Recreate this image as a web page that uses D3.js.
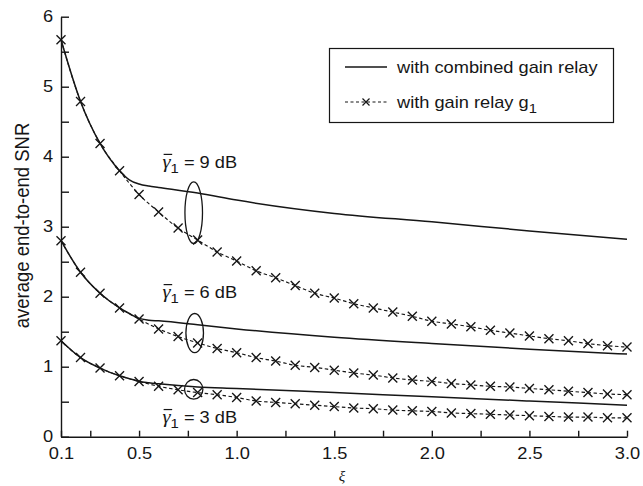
<!doctype html>
<html>
<head>
<meta charset="utf-8">
<style>
  body { margin: 0; background: #fff; }
  svg { display: block; font-family: "Liberation Sans", Arial, Helvetica, sans-serif; }
</style>
<script src="https://cdn.jsdelivr.net/npm/d3@7"></script>
</head>
<body>
<svg width="643" height="486"></svg>
<script>
// xi where the g1 curves carry a marker
var xi = [0.1, 0.2, 0.3, 0.4, 0.5, 0.6, 0.7, 0.8, 0.9, 1.0,
          1.1, 1.2, 1.3, 1.4, 1.5, 1.6, 1.7, 1.8, 1.9, 2.0,
          2.1, 2.2, 2.3, 2.4, 2.5, 2.6, 2.7, 2.8, 2.9, 3.0];

// with gain relay g1 (dashed + x markers)
var g1_9dB = [5.67, 4.79, 4.19, 3.80, 3.46, 3.21, 2.98, 2.81, 2.64, 2.51,
              2.37, 2.27, 2.16, 2.05, 1.98, 1.90, 1.84, 1.78, 1.72, 1.65,
              1.61, 1.57, 1.52, 1.48, 1.44, 1.40, 1.37, 1.33, 1.30, 1.28];
var g1_6dB = [2.80, 2.35, 2.05, 1.84, 1.68, 1.54, 1.43, 1.34, 1.26, 1.20,
              1.13, 1.08, 1.02, 0.99, 0.95, 0.91, 0.88, 0.84, 0.81, 0.79,
              0.76, 0.74, 0.72, 0.71, 0.69, 0.67, 0.65, 0.63, 0.61, 0.60];
var g1_3dB = [1.37, 1.13, 0.98, 0.87, 0.79, 0.72, 0.67, 0.63, 0.60, 0.56,
              0.51, 0.49, 0.47, 0.45, 0.43, 0.41, 0.40, 0.38, 0.37, 0.36,
              0.34, 0.33, 0.32, 0.31, 0.30, 0.29, 0.28, 0.28, 0.27, 0.27];

// with combined gain relay (solid)
var xiComb = [0.1, 0.2, 0.3, 0.4, 0.45, 0.5, 0.55, 0.6, 0.8, 1.0, 1.5, 2.0, 2.5, 3.0];
var comb_9dB = [5.67, 4.79, 4.19, 3.80, 3.67, 3.61, 3.58, 3.56, 3.48, 3.38, 3.19, 3.07, 2.94, 2.82];
var comb_6dB = [2.80, 2.35, 2.05, 1.84, 1.76, 1.69, 1.665, 1.655, 1.60, 1.54, 1.42, 1.33, 1.25, 1.18];
var comb_3dB = [1.37, 1.13, 0.98, 0.87, 0.83, 0.79, 0.77, 0.755, 0.71, 0.69, 0.63, 0.57, 0.51, 0.45];

var snrLevels = ["9", "6", "3"];
var xTicks = [0.1, 0.25, 0.5, 0.75, 1.0, 1.25, 1.5, 1.75, 2.0, 2.25, 2.5, 2.75, 3.0];
var yTicks = [0, 0.5, 1, 1.5, 2, 2.5, 3, 3.5, 4, 4.5, 5, 5.5, 6];

var ink = "#161616";
var sx = 1.14; // the original lettering is a bit wide

var svg = d3.select("svg");

var x = d3.scaleLinear().domain([0.1, 3.0]).range([61, 627]);
var y = d3.scaleLinear().domain([0, 6]).range([436.7, 16.7]);

// axes
svg.append("g")
    .attr("transform", "translate(0," + y(0) + ")")
    .call(d3.axisBottom(x)
        .tickValues(xTicks)
        .tickSizeInner(-6).tickSizeOuter(0).tickPadding(11)
        .tickFormat(function(d) {
            var half = Math.abs(d * 2 - Math.round(d * 2)) < 1e-9;
            return (half || d === 0.1) ? d.toFixed(1) : "";
        }));

svg.append("g")
    .attr("transform", "translate(" + x(0.1) + ",0)")
    .call(d3.axisLeft(y)
        .tickValues(yTicks)
        .tickSizeInner(-8).tickSizeOuter(0).tickPadding(7)
        .tickFormat(function(d) { return d % 1 === 0 ? d : ""; }));

svg.selectAll(".domain, .tick line").attr("stroke", ink).attr("stroke-width", 1.4);
svg.selectAll(".tick text")
    .attr("font-size", 16)
    .attr("font-family", null)
    .attr("fill", ink)
    .attr("transform", "scale(" + sx + ",1)");

// axis titles
svg.append("text")
    .attr("transform", "translate(29,225.5) rotate(-90) scale(1,1.05)")
    .attr("text-anchor", "middle")
    .attr("font-size", 18.5)
    .attr("fill", ink)
    .text("average end-to-end SNR");

svg.append("text")
    .attr("x", (x.range()[0] + x.range()[1]) / 2 - 2)
    .attr("y", 481)
    .attr("text-anchor", "middle")
    .attr("font-family", "'Liberation Serif', 'Times New Roman', serif")
    .attr("font-style", "italic")
    .attr("font-size", 15)
    .attr("fill", ink)
    .text("ξ");

// curves
var line = d3.line().curve(d3.curveMonotoneX)
    .x(function(d) { return x(d[0]); })
    .y(function(d) { return y(d[1]); });

var combSeries = [comb_9dB, comb_6dB, comb_3dB];
var g1Series = [g1_9dB, g1_6dB, g1_3dB];

combSeries.forEach(function(vals) {
    svg.append("path")
        .datum(xiComb.map(function(v, i) { return [v, vals[i]]; }))
        .attr("d", line)
        .attr("fill", "none")
        .attr("stroke", ink)
        .attr("stroke-width", 1.5);
});

var cross = "M-4.5,-4.5L4.5,4.5M-4.5,4.5L4.5,-4.5";

g1Series.forEach(function(vals) {
    var pts = xi.map(function(v, i) { return [v, vals[i]]; });
    svg.append("path")
        .datum(pts)
        .attr("d", line)
        .attr("fill", "none")
        .attr("stroke", ink)
        .attr("stroke-width", 1.15)
        .attr("stroke-dasharray", "3.5,2.5");
    svg.append("g").selectAll("path")
        .data(pts)
        .enter().append("path")
        .attr("transform", function(d) { return "translate(" + x(d[0]) + "," + y(d[1]) + ")"; })
        .attr("d", cross)
        .attr("stroke", ink)
        .attr("stroke-width", 1.35);
});

// ellipses grouping the pairs of curves (centre and half-axes in data units)
var ellCx = [0.78, 0.785, 0.78];
var ellCy = [3.2, 1.48, 0.677];
var ellRx = [0.045, 0.045, 0.047];
var ellRy = [0.44, 0.28, 0.14];

svg.append("g").selectAll("ellipse")
    .data(ellCx)
    .enter().append("ellipse")
    .attr("cx", function(d) { return x(d); })
    .attr("cy", function(d, i) { return y(ellCy[i]); })
    .attr("rx", function(d, i) { return x(d + ellRx[i]) - x(d); })
    .attr("ry", function(d, i) { return y(0) - y(ellRy[i]); })
    .attr("fill", "none")
    .attr("stroke", ink)
    .attr("stroke-width", 1.3);

// gamma labels
var labY = [3.84, 1.98, 0.195];
snrLevels.forEach(function(lv, i) {
    var g = svg.append("g")
        .attr("transform", "translate(" + x(0.62) + "," + y(labY[i]) + ") scale(" + sx + ",1)");
    g.append("line")
        .attr("x1", 1).attr("x2", 8.5)
        .attr("y1", -13.5).attr("y2", -13.5)
        .attr("stroke", ink).attr("stroke-width", 1.2);
    var t = g.append("text").attr("fill", ink).attr("font-size", 16);
    t.append("tspan")
        .attr("font-family", "'Liberation Serif', 'Times New Roman', serif")
        .attr("font-style", "italic")
        .attr("font-size", 18)
        .text("γ");
    t.append("tspan").attr("font-size", 13).attr("dy", 5).text("1");
    t.append("tspan").attr("dy", -5).text(" = " + lv + " dB");
});

// legend
var leg = svg.append("g");
leg.append("rect")
    .attr("x", 329.5).attr("y", 48.5)
    .attr("width", 284).attr("height", 74)
    .attr("fill", "#fff")
    .attr("stroke", ink).attr("stroke-width", 1.2);

leg.append("line")
    .attr("x1", 345).attr("x2", 387).attr("y1", 67).attr("y2", 67)
    .attr("stroke", ink).attr("stroke-width", 1.5);
leg.append("line")
    .attr("x1", 345).attr("x2", 387).attr("y1", 102).attr("y2", 102)
    .attr("stroke", ink).attr("stroke-width", 1.15)
    .attr("stroke-dasharray", "3,2.5");
leg.append("path")
    .attr("transform", "translate(366,102)")
    .attr("d", "M-3.5,-3.5L3.5,3.5M-3.5,3.5L3.5,-3.5")
    .attr("stroke", ink).attr("stroke-width", 1.2);

leg.append("text")
    .attr("transform", "translate(397,73) scale(" + sx + ",1)")
    .attr("font-size", 16).attr("fill", ink)
    .text("with combined gain relay");
var t2 = leg.append("text")
    .attr("transform", "translate(397,108) scale(" + sx + ",1)")
    .attr("font-size", 16).attr("fill", ink);
t2.append("tspan").text("with gain relay g");
t2.append("tspan").attr("font-size", 13).attr("dy", 5).text("1");
</script>
</body>
</html>
